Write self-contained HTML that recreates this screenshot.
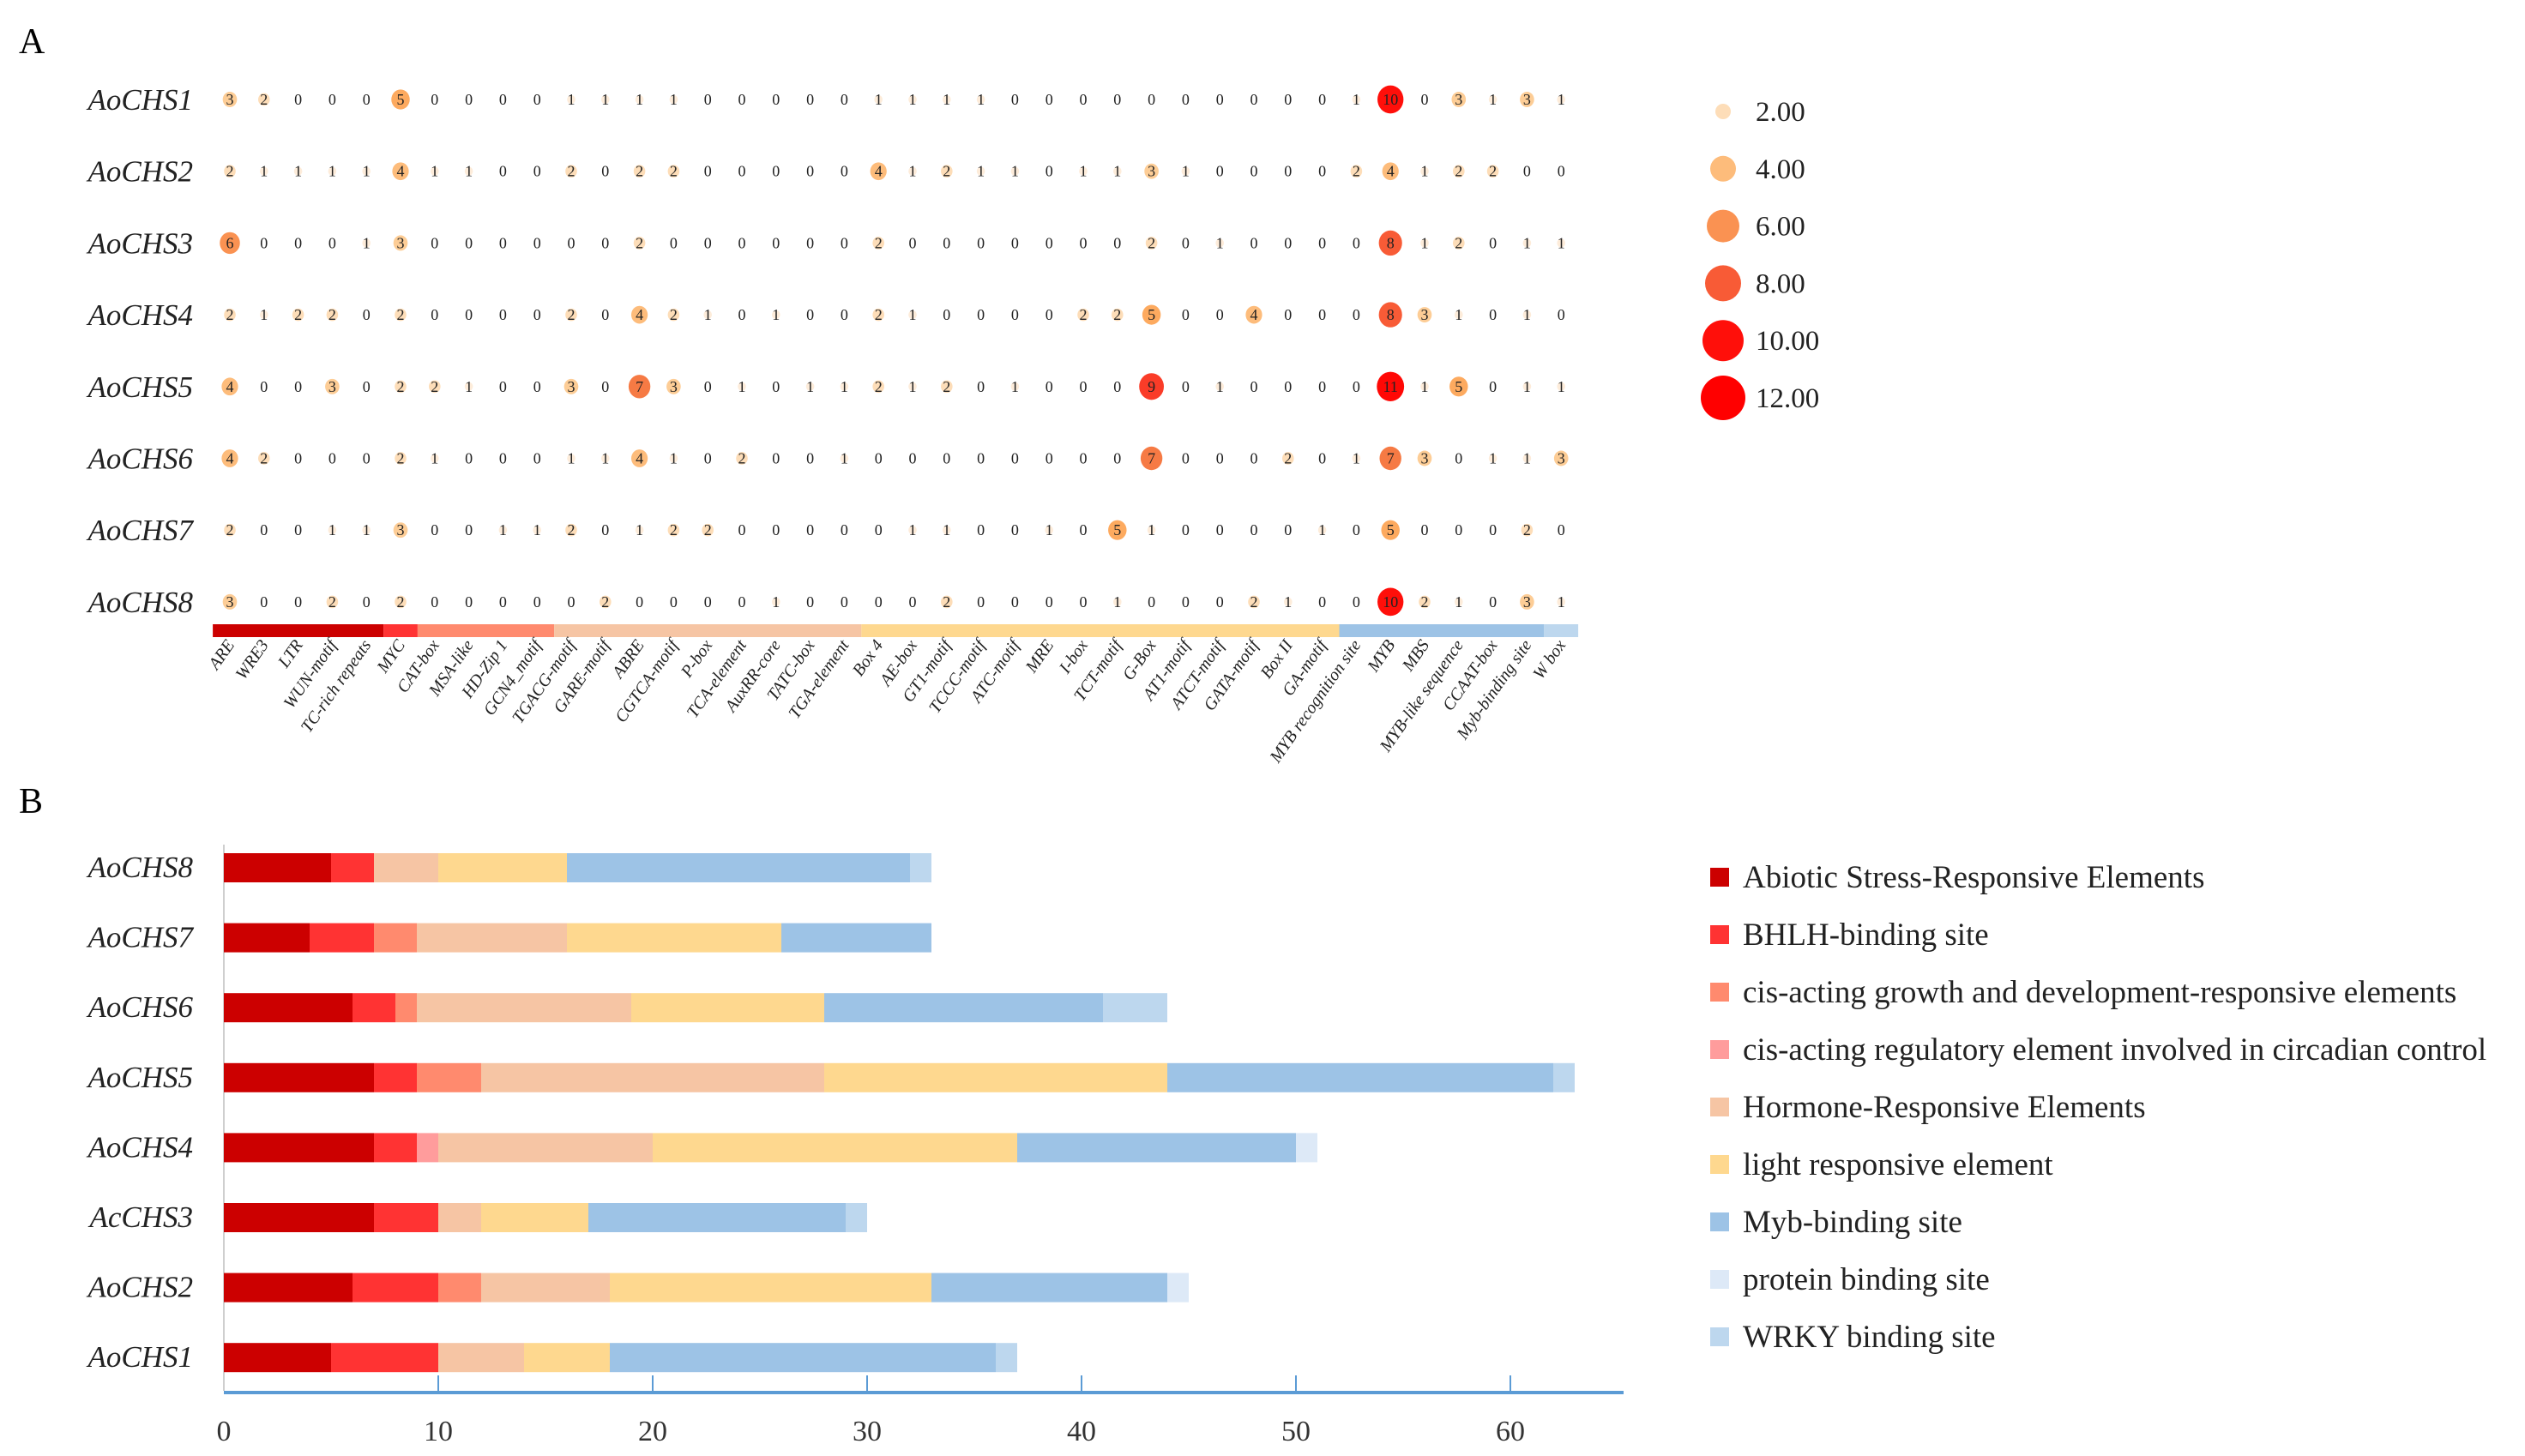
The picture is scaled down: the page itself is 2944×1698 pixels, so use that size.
<!DOCTYPE html>
<html><head><meta charset="utf-8">
<style>
html,body{margin:0;padding:0;background:#fff;}
svg{display:block;}
text{font-family:"Liberation Serif",serif;}
</style></head>
<body>
<svg id="chart" width="2944" height="1698" viewBox="0 0 2944 1698" xmlns="http://www.w3.org/2000/svg">
<text x="22" y="62" font-size="42">A</text>
<text x="22" y="948" font-size="42">B</text>
<g id="dotplot"></g>
<g id="legendA"></g>
<g id="barchart"></g>
<g id="legendB"></g>
</svg>
<script>
const NS="http://www.w3.org/2000/svg";
const genes=["AoCHS1","AoCHS2","AoCHS3","AoCHS4","AoCHS5","AoCHS6","AoCHS7","AoCHS8"];
const elements=["ARE","WRE3","LTR","WUN-motif","TC-rich repeats","MYC","CAT-box","MSA-like","HD-Zip 1","GCN4_motif","TGACG-motif","GARE-motif","ABRE","CGTCA-motif","P-box","TCA-element","AuxRR-core","TATC-box","TGA-element","Box 4","AE-box","GT1-motif","TCCC-motif","ATC-motif","MRE","I-box","TCT-motif","G-Box","AT1-motif","ATCT-motif","GATA-motif","Box II","GA-motif","MYB recognition site","MYB","MBS","MYB-like sequence","CCAAT-box","Myb-binding site","W box"];
const row1=[3,2,0,0,0,5,0,0,0,0,1,1,1,1,0,0,0,0,0,1,1,1,1,0,0,0,0,0,0,0,0,0,0,1,10,0,3,1,3,1];
const row2=[2,1,1,1,1,4,1,1,0,0,2,0,2,2,0,0,0,0,0,4,1,2,1,1,0,1,1,3,1,0,0,0,0,2,4,1,2,2,0,0];
const row3=[6,0,0,0,1,3,0,0,0,0,0,0,2,0,0,0,0,0,0,2,0,0,0,0,0,0,0,2,0,1,0,0,0,0,8,1,2,0,1,1];
const row4=[2,1,2,2,0,2,0,0,0,0,2,0,4,2,1,0,1,0,0,2,1,0,0,0,0,2,2,5,0,0,4,0,0,0,8,3,1,0,1,0];
const row5=[4,0,0,3,0,2,2,1,0,0,3,0,7,3,0,1,0,1,1,2,1,2,0,1,0,0,0,9,0,1,0,0,0,0,11,1,5,0,1,1];
const row6=[4,2,0,0,0,2,1,0,0,0,1,1,4,1,0,2,0,0,1,0,0,0,0,0,0,0,0,7,0,0,0,2,0,1,7,3,0,1,1,3];
const row7=[2,0,0,1,1,3,0,0,1,1,2,0,1,2,2,0,0,0,0,0,1,1,0,0,1,0,5,1,0,0,0,0,1,0,5,0,0,0,2,0];
const row8=[3,0,0,2,0,2,0,0,0,0,0,2,0,0,0,0,1,0,0,0,0,2,0,0,0,0,1,0,0,0,2,1,0,0,10,2,1,0,3,1];
const groupSizes=[5,1,4,9,14,6,1];
const legendValues=[2,4,6,8,10,12];
const legendLabels=["2.00","4.00","6.00","8.00","10.00","12.00"];
const barGenes=["AoCHS8","AoCHS7","AoCHS6","AoCHS5","AoCHS4","AcCHS3","AoCHS2","AoCHS1"];
const categories=["Abiotic Stress-Responsive Elements","BHLH-binding site","cis-acting growth and development-responsive elements","cis-acting regulatory element involved in circadian control","Hormone-Responsive Elements","light responsive element","Myb-binding site","protein binding site","WRKY binding site"];
const abiotic=[5,4,6,7,7,7,6,5];
const bhlh=[2,3,2,2,2,3,4,5];
const growth=[0,2,1,3,0,0,2,0];
const circadian=[0,0,0,0,1,0,0,0];
const hormone=[3,7,10,16,10,2,6,4];
const light=[6,10,9,16,17,5,15,4];
const myb=[16,7,13,18,13,12,11,18];
const protein=[0,0,0,0,1,0,1,0];
const wrky=[1,0,3,1,0,1,0,1];
const xTicks=[0,10,20,30,40,50,60];

const catColors=["#cc0000","#ff3333","#ff8a6e","#ff9c9c","#f6c5a4","#fed88f","#9dc3e6","#dde9f7","#bdd7ee"];
const groupColors=["#cc0000","#ff3333","#ff8a6e","#f6c5a4","#fed88f","#9dc3e6","#bdd7ee"];

function mk(tag,attrs,parent,txt){const e=document.createElementNS(NS,tag);for(const k in attrs)e.setAttribute(k,attrs[k]);if(txt!==undefined)e.textContent=txt;parent.appendChild(e);return e;}

const rows=[row1,row2,row3,row4,row5,row6,row7,row8];
const colX=i=>268+i*39.8;
const rowY=j=>116+j*83.7;
const rad=v=>4.8*Math.sqrt(v);
function dotColor(v){
  const stops=[[1,[253,236,218]],[3,[253,205,150]],[5,[253,170,95]],[7,[246,122,68]],[9,[250,60,40]],[10,[255,15,10]],[12,[255,0,0]]];
  if(v<=stops[0][0])return "rgb("+stops[0][1].join(",")+")";
  for(let k=1;k<stops.length;k++){if(v<=stops[k][0]){const a=stops[k-1],b=stops[k];const t=(v-a[0])/(b[0]-a[0]);return "rgb("+a[1].map((c,i)=>Math.round(c+(b[1][i]-c)*t)).join(",")+")";}}
  return "rgb(255,0,0)";
}
const dp=document.getElementById('dotplot');
rows.forEach((r,j)=>{
  const lab=mk('text',{x:225,y:rowY(j)+12,'font-size':35,'font-style':'italic','text-anchor':'end',fill:'#222'},dp,genes[j]);
  
  
  r.forEach((v,i)=>{
    if(v>0){
      const c=mk('ellipse',{cx:colX(i),cy:rowY(j),rx:rad(v),ry:rad(v)*1.08,fill:dotColor(v)},dp);
      
      
    }
    const t=mk('text',{x:colX(i),y:rowY(j)+6,'font-size':18,'font-family':'Liberation Sans, sans-serif','text-anchor':'middle',fill:'#222'},dp,String(v));
    
    
  });
});
let gi=0;
groupSizes.forEach((n,k)=>{
  const x0=colX(gi)-19.9, x1=colX(gi+n)-19.9;
  const r=mk('rect',{x:x0,y:728,width:x1-x0,height:15,fill:groupColors[k]},dp);
  
  
  gi+=n;
});
elements.forEach((e,i)=>{
  const x=colX(i)+6,y=752;
  const t=mk('text',{x:x,y:y,'font-size':20,'font-style':'italic','text-anchor':'end',fill:'#222',transform:'rotate(-55 '+x+' '+y+')'},dp,e);
  
  
});
const la=document.getElementById('legendA');
legendValues.forEach((v,k)=>{
  const y=130+k*66.8;
  const c=mk('circle',{cx:2009,cy:y,r:[9,15,19,21,24,26][k],fill:dotColor(v)},la);
  
  
  const t=mk('text',{x:2047,y:y+11,'font-size':33,fill:'#222'},la,legendLabels[k]);
  
  
});

const series=[abiotic,bhlh,growth,circadian,hormone,light,myb,protein,wrky];
const x0=261, unit=25.0;
const xs=v=>x0+v*unit;
const barY=j=>995+j*81.6;
const bc=document.getElementById('barchart');
const yax=mk('line',{x1:x0,y1:985,x2:x0,y2:1622,stroke:'#cfcfcf','stroke-width':2},bc);


barGenes.forEach((g,j)=>{
  const lab=mk('text',{x:225,y:barY(j)+28,'font-size':35,'font-style':'italic','text-anchor':'end',fill:'#222'},bc,g);
  
  
  let acc=0;
  series.forEach((s,k)=>{
    const v=s[j];
    if(v>0){
      const r=mk('rect',{x:xs(acc),y:barY(j),width:xs(acc+v)-xs(acc),height:34,fill:catColors[k]},bc);
      
      
    }
    acc+=v;
  });
});
const ax=mk('line',{x1:x0,y1:1624,x2:1893,y2:1624,stroke:'#5b9bd5','stroke-width':4},bc);


xTicks.forEach(v=>{
  if(v>0){
    const tk=mk('line',{x1:xs(v),y1:1604,x2:xs(v),y2:1624,stroke:'#5b9bd5','stroke-width':2},bc);
    
    
  }
  const t=mk('text',{x:xs(v),y:1680,'font-size':34,'text-anchor':'middle',fill:'#333'},bc,String(v));
  
  
});
const lb=document.getElementById('legendB');
categories.forEach((c,k)=>{
  const y=1023+k*67;
  const r=mk('rect',{x:1994,y:y-11,width:22,height:22,fill:catColors[k]},lb);
  
  
  const t=mk('text',{x:2032,y:y+12,'font-size':37,fill:'#222'},lb,c);
  
  
});
</script>
</body></html>
